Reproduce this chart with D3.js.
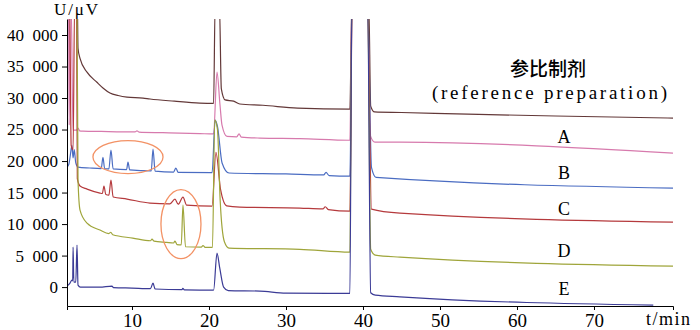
<!DOCTYPE html>
<html>
<head>
<meta charset="utf-8">
<script src="https://cdn.jsdelivr.net/npm/d3@7"></script>
<style>
  body { margin: 0; background: #fff; }
</style>
</head>
<body>
<div id="chart"></div>
<script>
// chromatograms, [time (min), signal (uV)] ; values above the plot top are clipped
const refTrace = [[1.56, 45000], [2.9, 45000], [2.99, 37900], [3.25, 36300], [4.16, 34100], [5.45, 32500], [6.23, 31600], [7.14, 30800], [8.2, 30400], [9.35, 30150], [11.43, 30000], [12.34, 29850], [15.5, 29500], [18.8, 29200], [20.6, 29150], [20.8, 45000], [21.35, 45000], [21.6, 31500], [22.1, 29700], [23.2, 29500], [24.0, 29050], [27.0, 28850], [31.5, 28400], [38.3, 28250], [38.55, 45000], [40.75, 45000], [41.0, 28700], [41.5, 27800], [45, 27700], [55, 27400], [65, 27150], [80.26, 26820]];

const traceA = [[1.56, 45000], [1.75, 45000], [1.85, 25700], [1.95, 45000], [2.1, 45000], [2.34, 24920], [2.8, 24900], [2.99, 25230], [3.2, 24800], [3.64, 24760], [6, 24700], [10.4, 24620], [10.65, 24800], [10.9, 24600], [14.0, 24500], [18.83, 24350], [20.6, 24300], [21.04, 34100], [21.43, 28900], [21.69, 25700], [22.34, 23900], [23.6, 23850], [23.9, 24300], [24.2, 23800], [26.6, 23650], [31.8, 23550], [38.3, 23300], [38.55, 45000], [40.6, 45000], [40.9, 24200], [41.56, 23010], [44.8, 23000], [80.26, 21270]];

const traceB = [[1.56, 19050], [1.8, 19500], [2.0, 21000], [2.2, 22500], [2.35, 20500], [2.5, 21800], [2.7, 19700], [2.99, 19050], [4.5, 18900], [6.0, 18800], [6.23, 20600], [6.45, 18800], [7.0, 18750], [7.27, 21750], [7.55, 18750], [9.3, 18650], [9.48, 19850], [9.7, 18600], [12.5, 18450], [12.73, 21900], [13.0, 18400], [15.4, 18250], [15.7, 18900], [16.0, 18200], [20.4, 18150], [20.8, 26500], [21.1, 25500], [21.7, 19700], [22.6, 18100], [30, 17950], [34.9, 17800], [35.2, 18200], [35.6, 17700], [38.3, 17620], [38.6, 45000], [40.6, 45000], [41.1, 19000], [41.7, 17400], [80.26, 15710]];

const traceC = [[1.56, 45000], [1.9, 45000], [2.1, 22500], [2.35, 21800], [2.55, 45000], [2.8, 45000], [2.9, 17200], [3.25, 16030], [4.16, 15550], [5.84, 14920], [6.15, 14850], [6.36, 16030], [6.6, 14700], [7.0, 14600], [7.27, 16980], [7.55, 14300], [9.35, 13970], [12.34, 13330], [14.9, 13200], [15.58, 13950], [16.0, 13150], [16.62, 14280], [17.1, 13000], [20.4, 12850], [20.9, 21400], [21.5, 15500], [22.3, 12900], [24.0, 12700], [31.8, 12540], [34.8, 12400], [35.1, 12750], [35.5, 12300], [38.3, 12060], [38.6, 45000], [40.6, 45000], [41.1, 12380], [44.8, 11740], [80.26, 10315]];

const traceD = [[1.56, 45000], [2.85, 45000], [2.99, 16980], [3.25, 12220], [4.16, 10160], [5.84, 9050], [7.0, 8500], [7.25, 8700], [7.5, 8300], [10.1, 7780], [12.4, 7350], [12.6, 7600], [12.85, 7300], [14.5, 7100], [15.4, 7000], [15.58, 7300], [15.85, 6750], [16.4, 6700], [16.62, 13000], [16.95, 6400], [19.0, 6350], [19.22, 6600], [19.5, 6300], [20.45, 6300], [20.75, 26500], [21.1, 25000], [21.45, 13800], [22.0, 7200], [22.6, 6190], [31.8, 6000], [38.3, 5550], [38.55, 45000], [40.6, 45000], [41.0, 6000], [41.6, 5080], [44.8, 4760], [80.26, 3330]];

const traceE = [[1.56, 160], [1.95, 630], [2.2, 1100], [2.3, 1000], [2.35, 6350], [2.45, 800], [2.7, 800], [2.86, 6670], [2.99, 320], [3.3, 0], [5.8, 0], [7.4, 160], [7.6, -80], [10, -160], [12.4, -250], [12.73, 640], [13.0, -300], [16.5, -400], [16.6, -200], [16.8, -450], [18.8, -476], [20.6, -476], [21.04, 5400], [21.4, 3000], [21.9, 0], [22.5, -550], [26.6, -635], [30, -950], [38.3, -1000], [38.55, 45000], [40.6, 45000], [41.0, -900], [41.6, -1270], [44.8, -1540], [77.7, -2860]];

const seriesNames = ["reference", "A", "B", "C", "D", "E"];
const seriesData = [refTrace, traceA, traceB, traceC, traceD, traceE];
const labelValues = [null, 23800, 18090, 12380, 5713, -317]; // where the letter labels sit
const labelTime = 66.1;

const xTicks = [10, 20, 30, 40, 50, 60, 70];
const yTicks = [0, 5000, 10000, 15000, 20000, 25000, 30000, 35000, 40000];

// orange circles around the impurity peaks, in data units
const circled = [
  { t: 9.48, v: 20630, rt: 4.55, rv: 2620 },
  { t: 16.36, v: 10000, rt: 2.6, rv: 5475 }
];

const colors = ["#633838", "#d77aad", "#4a6cc2", "#b53a3d", "#9fa53a", "#3b3b96"];
const serif = "'Liberation Serif', 'Times New Roman', serif";

const width = 700, height = 330;
const margin = { top: 19, right: 27, bottom: 24, left: 67 };

const svg = d3.select("#chart").append("svg")
  .attr("width", width)
  .attr("height", height);

const x = d3.scaleLinear().domain([1.56, 80.26]).range([margin.left, width - margin.right]);
const y = d3.scaleLinear().domain([-3000, 42540]).range([height - margin.bottom, margin.top]);

svg.append("clipPath").attr("id", "plot")
  .append("rect")
  .attr("x", margin.left)
  .attr("y", margin.top)
  .attr("width", width - margin.left - margin.right)
  .attr("height", height - margin.top - margin.bottom);

const line = d3.line()
  .x(d => x(d[0]))
  .y(d => y(d[1]))
  .curve(d3.curveMonotoneX);

svg.append("g")
  .attr("clip-path", "url(#plot)")
  .selectAll("path")
  .data(seriesData)
  .join("path")
  .attr("fill", "none")
  .attr("stroke", (d, i) => colors[i])
  .attr("stroke-width", 1.2)
  .attr("d", line);

// ellipses
svg.append("g")
  .selectAll("ellipse")
  .data(circled)
  .join("ellipse")
  .attr("cx", d => x(d.t))
  .attr("cy", d => y(d.v))
  .attr("rx", d => x(d.t + d.rt) - x(d.t))
  .attr("ry", d => y(d.v - d.rv) - y(d.v))
  .attr("fill", "none")
  .attr("stroke", "#f39265")
  .attr("stroke-width", 1.3);

// axes
const xAxis = svg.append("g")
  .attr("transform", `translate(0,${height - margin.bottom})`)
  .call(d3.axisBottom(x).tickValues(xTicks).tickSize(4).tickSizeOuter(4).tickPadding(4));
xAxis.selectAll("text")
  .style("font-family", serif)
  .style("font-size", "19px")
  .attr("fill", "#000");

const yAxis = svg.append("g")
  .attr("transform", `translate(${margin.left},0)`)
  .call(d3.axisLeft(y).tickValues(yTicks).tickSize(5).tickSizeOuter(0).tickPadding(4)
    .tickFormat(d => d3.format(",")(d).replace(",", "\u2002")));
yAxis.selectAll("text")
  .style("font-family", serif)
  .style("font-size", "17px")
  .attr("fill", "#000");

svg.selectAll(".domain, .tick line").attr("stroke", "#000");

// axis titles
svg.append("text")
  .attr("x", 54).attr("y", 15)
  .style("font-family", serif)
  .style("font-size", "17px")
  .attr("textLength", 44)
  .attr("lengthAdjust", "spacing")
  .text("U/μV");

svg.append("text")
  .attr("x", 646).attr("y", 325)
  .style("font-family", serif)
  .style("font-size", "18px")
  .attr("textLength", 44)
  .attr("lengthAdjust", "spacing")
  .text("t/min");

// series labels
svg.append("text")
  .attr("x", x(labelTime) - 16).attr("y", 76)
  .attr("text-anchor", "middle")
  .style("font-family", "'Noto Sans CJK SC', sans-serif")
  .style("font-size", "19px")
  .style("font-weight", 500)
  .text("参比制剂");

svg.append("text")
  .attr("x", x(labelTime) - 14.5).attr("y", 99)
  .attr("text-anchor", "middle")
  .style("font-family", serif)
  .style("font-size", "19px")
  .attr("textLength", 235)
  .attr("lengthAdjust", "spacing")
  .text("(reference preparation)");

svg.append("g")
  .selectAll("text")
  .data(seriesNames.map((n, i) => ({ name: n, v: labelValues[i] })).filter(d => d.v !== null))
  .join("text")
  .attr("x", x(labelTime))
  .attr("y", d => y(d.v))
  .attr("dy", "0.35em")
  .attr("text-anchor", "middle")
  .style("font-family", serif)
  .style("font-size", "18px")
  .text(d => d.name);
</script>
</body>
</html>
